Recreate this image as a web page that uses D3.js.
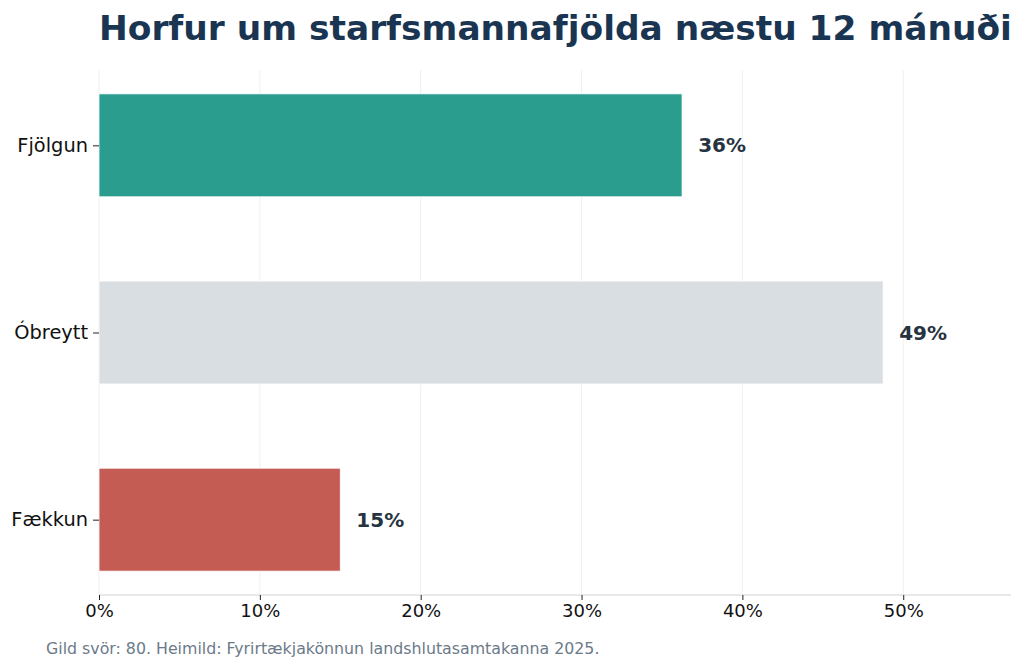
<!DOCTYPE html>
<html>
<head>
<meta charset="utf-8">
<script src="https://cdn.jsdelivr.net/npm/d3@7"></script>
<style>
  body { margin: 0; background: #fff; }
  svg { font-family: "DejaVu Sans", sans-serif; }
</style>
</head>
<body>
<div id="container"></div>
<script>
/* DATA */
const categories = ["Fjölgun", "Óbreytt", "Fækkun"];
const values = [36.25, 48.75, 15.0];
const valueLabels = ["36%", "49%", "15%"];
const colors = ["#2a9d8f", "#d9dee2", "#c55c54"];
const xTicks = [0, 10, 20, 30, 40, 50];

/* CONSTANTS */
const width = 1024,
  height = 669,
  plotLeft = 99,
  plotRight = 1011,
  plotTop = 70,
  plotBottom = 595;

const svg = d3.select("#container")
  .append("svg")
  .attr("width", width)
  .attr("height", height);

// SCALES
const xScale = d3.scaleLinear()
  .domain([0, 56.7])
  .range([plotLeft, plotRight]);

// bar centers at 0,1,2, bar height 0.55, matplotlib-like padding
const yScale = d3.scaleLinear()
  .domain([-0.4025, 2.4025])
  .range([plotTop, plotBottom]);
const barH = yScale(0.55) - yScale(0);

// GRID
svg.append("g")
  .selectAll("line")
  .data(xTicks)
  .join("line")
  .attr("x1", d => xScale(d))
  .attr("x2", d => xScale(d))
  .attr("y1", plotTop)
  .attr("y2", plotBottom)
  .attr("stroke", "#efefef")
  .attr("stroke-width", 1);

// BARS
svg.append("g")
  .selectAll("rect")
  .data(values)
  .join("rect")
  .attr("x", xScale(0))
  .attr("y", (d, i) => yScale(i) - barH / 2)
  .attr("width", d => xScale(d) - xScale(0))
  .attr("height", barH)
  .attr("fill", (d, i) => colors[i])
  .attr("stroke", "#fff")
  .attr("stroke-width", 0.8);

// VALUE LABELS
svg.append("g")
  .selectAll("text")
  .data(values)
  .join("text")
  .attr("x", d => xScale(d + 1))
  .attr("y", (d, i) => yScale(i))
  .attr("dy", "0.35em")
  .attr("font-size", 20)
  .attr("font-weight", "bold")
  .attr("fill", "#263340")
  .text((d, i) => valueLabels[i]);

// AXES
const xAxis = d3.axisBottom(xScale)
  .tickValues(xTicks)
  .tickFormat(d => d + "%")
  .tickSize(5)
  .tickPadding(4);

const gx = svg.append("g")
  .attr("transform", `translate(0,${plotBottom})`)
  .call(xAxis);
gx.select(".domain").attr("stroke", "#cfd3d7").attr("stroke-width", 1.2)
  .attr("d", `M${plotLeft},0H${plotRight}`);
gx.selectAll(".tick line").attr("stroke", "#222");
gx.selectAll(".tick text")
  .attr("font-size", 18)
  .attr("font-family", "DejaVu Sans, sans-serif")
  .attr("fill", "#111");

const yAxis = d3.axisLeft(yScale)
  .tickValues([0, 1, 2])
  .tickFormat((d, i) => categories[i])
  .tickSize(6)
  .tickPadding(5);

const gy = svg.append("g")
  .attr("transform", `translate(${plotLeft},0)`)
  .call(yAxis);
gy.select(".domain").remove();
gy.selectAll(".tick line").attr("stroke", "#222");
gy.selectAll(".tick text")
  .attr("font-size", 19.4)
  .attr("font-family", "DejaVu Sans, sans-serif")
  .attr("fill", "#111");

// TITLE
svg.append("text")
  .attr("x", plotLeft)
  .attr("y", 40)
  .attr("font-size", 34.4)
  .attr("font-weight", "bold")
  .attr("fill", "#1a3552")
  .text("Horfur um starfsmannafjölda næstu 12 mánuði");

// FOOTNOTE
svg.append("text")
  .attr("x", 46)
  .attr("y", 654)
  .attr("font-size", 15.8)
  .attr("fill", "#6b7a89")
  .text("Gild svör: 80. Heimild: Fyrirtækjakönnun landshlutasamtakanna 2025.");
</script>
</body>
</html>
